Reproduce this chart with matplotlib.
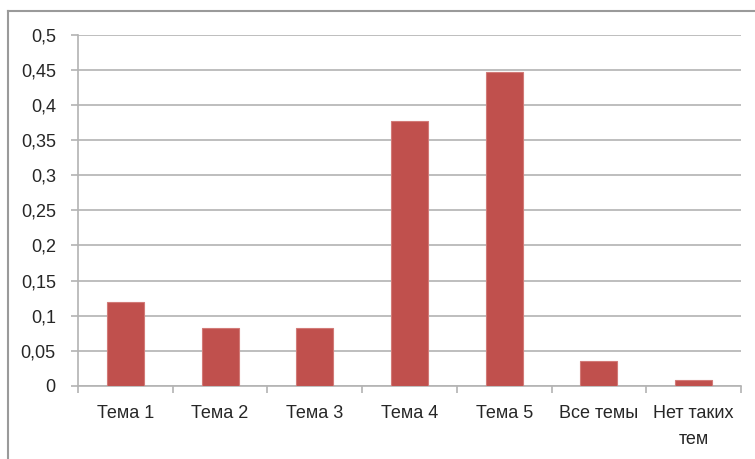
import numpy as np
import matplotlib
matplotlib.use('Agg')
import matplotlib.pyplot as plt
from matplotlib.lines import Line2D
from matplotlib.ticker import FuncFormatter, FixedLocator

plt.rcParams['font.family'] = ['Liberation Sans', 'DejaVu Sans']

# data
categories = ['Тема 1', 'Тема 2', 'Тема 3', 'Тема 4', 'Тема 5', 'Все темы', 'Нет таких\nтем']
values = [0.12, 0.083, 0.083, 0.377, 0.447, 0.035, 0.008]
yticks = [0, 0.05, 0.1, 0.15, 0.2, 0.25, 0.3, 0.35, 0.4, 0.45, 0.5]

grey = '#B3B3B3'
text_col = '#262626'

fig = plt.figure(figsize=(7.55, 4.59), dpi=100)
ax = fig.add_axes([78 / 755, 1 - 386 / 459, 663 / 755, (386 - 34.5) / 459])

x = np.arange(len(categories))
ax.bar(x, values, width=0.39, color='#C0504D', edgecolor='#D27A77', linewidth=0.8, zorder=3)

ax.set_xlim(-0.5, len(categories) - 0.5)
ax.set_ylim(0, 0.5)

ax.set_yticks(yticks)
ax.yaxis.set_major_formatter(FuncFormatter(lambda v, p: ('%g' % round(v, 2)).replace('.', ',')))
ax.grid(axis='y', color=grey, linewidth=1.2, zorder=0)

ax.set_xticks(x)
ax.set_xticklabels(categories, linespacing=1.65)
ax.xaxis.set_minor_locator(FixedLocator(np.arange(-0.5, len(categories), 1)))
ax.tick_params(axis='x', which='major', length=0, pad=14, labelsize=13, colors=text_col)
ax.tick_params(axis='x', which='minor', length=5, width=1.2, color=grey, direction='out')
ax.tick_params(axis='y', length=5, width=1.2, color=grey, pad=11, labelsize=13, labelcolor=text_col)

for side in ['top', 'right']:
    ax.spines[side].set_visible(False)
for side in ['left', 'bottom']:
    ax.spines[side].set_color(grey)
    ax.spines[side].set_linewidth(1.2)

# outer chart frame (only top and left edges visible in the crop)
fig.add_artist(Line2D([8 / 755, 8 / 755], [0, 1 - 11 / 459], transform=fig.transFigure, color='#9A9A9A', lw=1.5))
fig.add_artist(Line2D([8 / 755, 1], [1 - 11 / 459, 1 - 11 / 459], transform=fig.transFigure, color='#9A9A9A', lw=1.5))

plt.savefig('out.png', dpi=100)
